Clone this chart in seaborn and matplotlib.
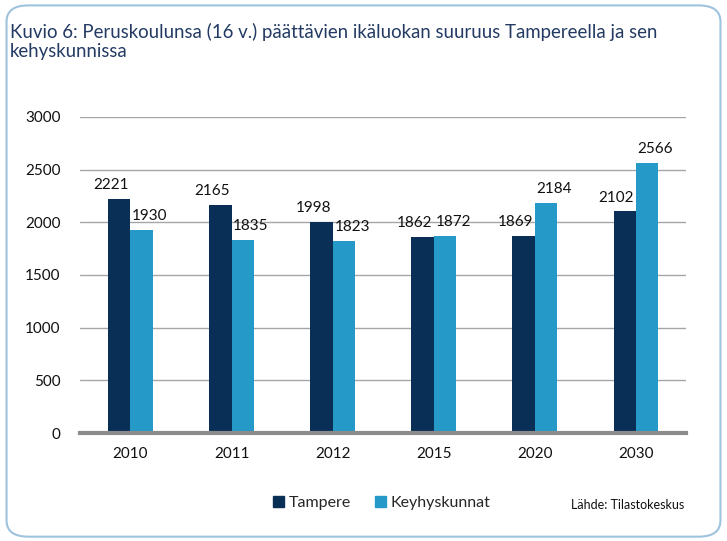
import pandas as pd
import matplotlib.pyplot as plt
import seaborn as sns
from matplotlib.patches import FancyBboxPatch

# data
years = ["2010", "2011", "2012", "2015", "2020", "2030"]
tampere = [2221, 2165, 1998, 1862, 1869, 2102]
kehys = [1930, 1835, 1823, 1872, 2184, 2566]
series = ["Tampere", "Keyhyskunnat"]
colors = ["#0a2f56", "#2599c7"]

df = pd.DataFrame({
    "year": years * 2,
    "value": tampere + kehys,
    "series": [series[0]] * len(years) + [series[1]] * len(years),
})

sns.set_theme(style="white")
plt.rcParams['font.family'] = ['Lato', 'DejaVu Sans']

fig = plt.figure(figsize=(7.27, 5.41), dpi=100)
ax = fig.add_axes([0.110, 0.1996, 0.834, 0.5845])

sns.barplot(data=df, x="year", y="value", hue="series", palette=colors,
            width=0.44, gap=0, saturation=1, linewidth=0, ax=ax, legend=False)

# labels over bars, nudged apart like the original
for cont, dx in zip(ax.containers, [-6, 6]):
    for bar, v in zip(cont, cont.datavalues):
        ax.annotate(str(int(v)), (bar.get_x() + bar.get_width() / 2, bar.get_height()),
                    xytext=(dx, 5), textcoords="offset points", ha="center", va="bottom",
                    fontsize=11, color="#111111")

ax.set_ylim(0, 3000)
ax.set_yticks(range(0, 3001, 500))
ax.yaxis.grid(True, color="#a6a6a6", linewidth=1)
ax.set_axisbelow(True)
for s in ["top", "right", "left"]:
    ax.spines[s].set_visible(False)
ax.spines["bottom"].set_color("#8c8c8c")
ax.spines["bottom"].set_linewidth(3)
ax.set_xlabel("")
ax.set_ylabel("")
ax.tick_params(axis="y", length=0, labelsize=11, pad=14, labelcolor="#111111")
ax.tick_params(axis="x", length=0, labelsize=11, pad=10, labelcolor="#111111")
ax.set_xlim(-0.5, len(years) - 0.5)

# legend
handles = [plt.Rectangle((0, 0), 1, 1, color=c) for c in colors]
fig.legend(handles, series, loc="center", bbox_to_anchor=(0.525, 0.07),
           ncol=2, frameon=False, fontsize=11.5, handlelength=0.7,
           handleheight=0.7, handletextpad=0.3, columnspacing=1.5)

fig.text(0.785, 0.066, "Lähde: Tilastokeskus", fontsize=9, color="#111111",
         va="center")

# title
fig.text(0.014, 0.958, "Kuvio 6: Peruskoulunsa (16 v.) päättävien ikäluokan suuruus Tampereella ja sen\nkehyskunnissa",
         fontsize=13.4, color="#233a63", va="top", linespacing=1.15)

# rounded frame
box = FancyBboxPatch((0.009, 0.008), 0.982, 0.982, boxstyle="round,pad=0,rounding_size=0.03",
                     transform=fig.transFigure, fill=False, edgecolor="#9ec3de", linewidth=1.5)
fig.patches.append(box)

fig.savefig("out.png", dpi=100)
